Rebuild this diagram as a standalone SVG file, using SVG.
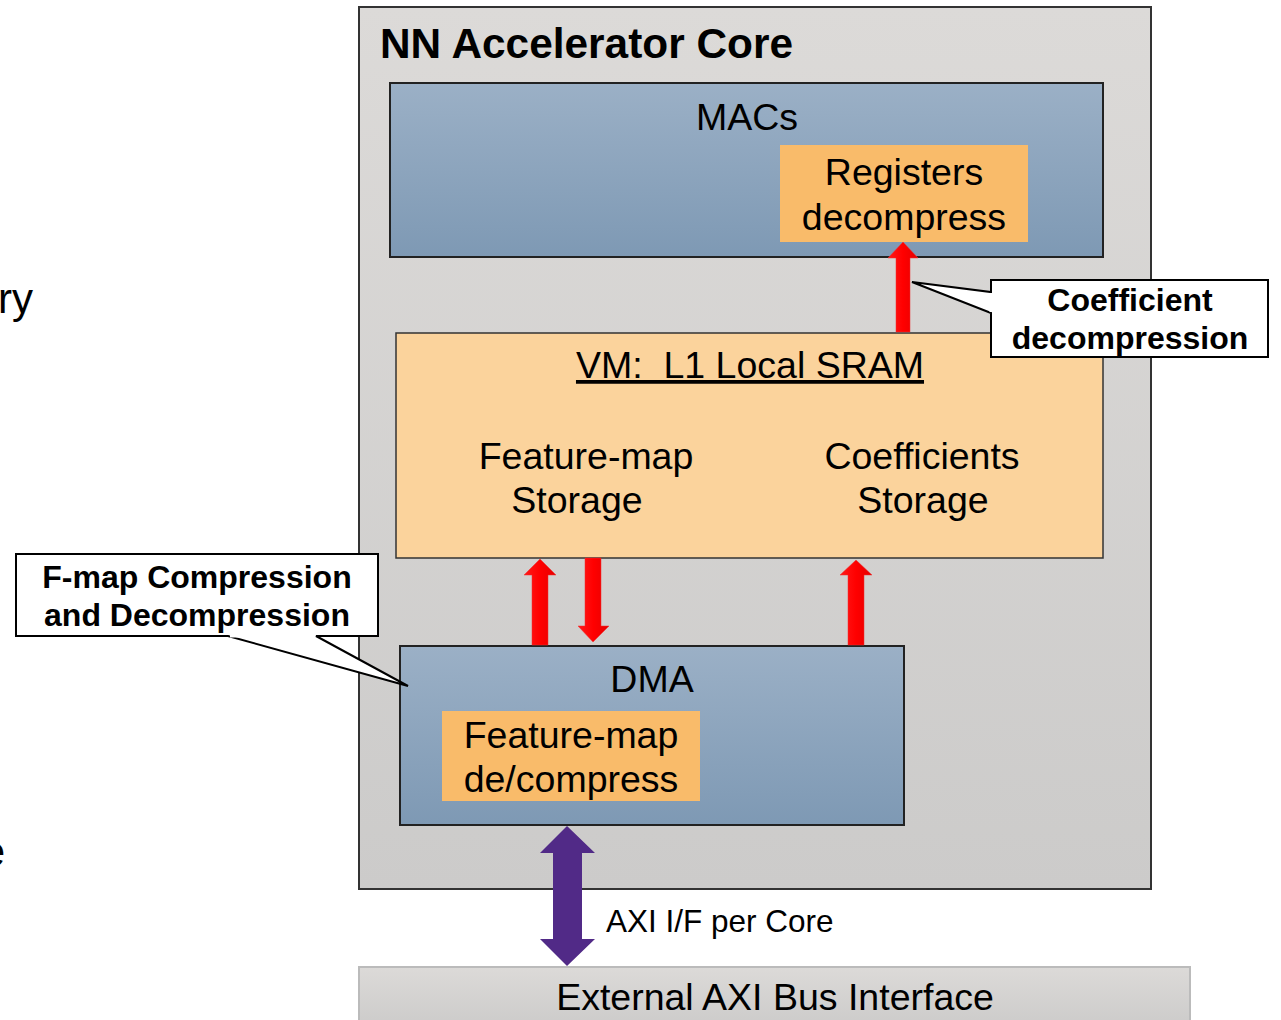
<svg xmlns="http://www.w3.org/2000/svg" width="1281" height="1020" viewBox="0 0 1281 1020">
<style>
text{font-family:"Liberation Sans",Arial,sans-serif;fill:#000}
.t34{font-size:37.5px;text-anchor:middle}
.cb{font-size:32px;font-weight:bold;text-anchor:middle}
.blue{fill:url(#gBlue);stroke:#222;stroke-width:2}
.orange{fill:#f9bb6a}
.red{fill:url(#gRed);stroke:#e33;stroke-width:0.5}
.callout{fill:#fff;stroke:#000;stroke-width:2}
</style>
<defs>
<linearGradient id="gCore" x1="0" y1="0" x2="0" y2="1"><stop offset="0" stop-color="#dcdad8"/><stop offset="1" stop-color="#cccbca"/></linearGradient>
<linearGradient id="gBlue" x1="0" y1="0" x2="0" y2="1"><stop offset="0" stop-color="#9bb0c6"/><stop offset="1" stop-color="#7e99b4"/></linearGradient>
<linearGradient id="gRed" x1="0" y1="0" x2="1" y2="0"><stop offset="0" stop-color="#ff1a1a"/><stop offset="0.5" stop-color="#ff0000"/><stop offset="1" stop-color="#e60000"/></linearGradient>
<linearGradient id="gBus" x1="0" y1="0" x2="0" y2="1"><stop offset="0" stop-color="#dcdad8"/><stop offset="1" stop-color="#cccbca"/></linearGradient>
</defs>
<rect width="1281" height="1020" fill="#fff"/>
<text x="33" y="313" style="font-size:42px;text-anchor:end">ry</text>
<text x="5" y="866" style="font-size:42px;text-anchor:end">e</text>
<g id="core">
<rect x="359" y="7" width="792" height="882" fill="url(#gCore)" stroke="#333" stroke-width="2"/>
<text x="380" y="58" style="font-size:42px;font-weight:bold" textLength="413" lengthAdjust="spacingAndGlyphs">NN Accelerator Core</text>
</g>
<g id="macs">
<rect class="blue" x="390" y="83" width="713" height="174"/>
<text class="t34" x="747" y="130">MACs</text>
</g>
<g id="registers">
<rect class="orange" x="780" y="145" width="248" height="97"/>
<text class="t34" x="904" y="185">Registers</text>
<text class="t34" x="904" y="230">decompress</text>
</g>
<g id="vm">
<rect x="396" y="333" width="707" height="225" fill="#fbd39c" stroke="#333" stroke-width="1.5"/>
<text class="t34" x="750" y="378" text-decoration="underline" xml:space="preserve">VM:  L1 Local SRAM</text>
<text class="t34" x="586" y="469">Feature-map</text>
<text class="t34" x="577" y="513">Storage</text>
<text class="t34" x="922" y="469">Coefficients</text>
<text class="t34" x="923" y="513">Storage</text>
</g>
<g id="dma">
<rect class="blue" x="400" y="646" width="504" height="179"/>
<text class="t34" x="652" y="692">DMA</text>
</g>
<g id="fmap">
<rect class="orange" x="442" y="711" width="258" height="90"/>
<text class="t34" x="571" y="748">Feature-map</text>
<text class="t34" x="571" y="792">de/compress</text>
</g>
<g id="bus">
<rect x="359" y="967" width="831" height="60" fill="url(#gBus)" stroke="#bbb" stroke-width="2"/>
<text class="t34" x="775" y="1010">External AXI Bus Interface</text>
</g>
<g id="connectors">
<polygon class="red" points="896,332 896,258 888,258 903,242 918,258 910,258 910,332"/>
<polygon class="red" points="532,645 532,575 524,575 540,559 556,575 548,575 548,645"/>
<polygon class="red" points="585,558 585,626 578,626 593,642 609,626 601,626 601,558"/>
<polygon class="red" points="848,645 848,575 840,575 856,560 872,575 864,575 864,645"/>
<polygon fill="#512a87" points="567,826 595,853 582,853 582,939 595,939 567,966 540,939 553,939 553,853 540,853"/>
<text x="606" y="932" style="font-size:31.5px">AXI I/F per Core</text>
</g>
<g id="callout-coef">
<polygon class="callout" points="991,280 1268,280 1268,357 991,357 991,313 912,282 991,292"/>
<line x1="991" y1="293" x2="991" y2="312" stroke="#fff" stroke-width="3"/>
<text class="cb" x="1130" y="311">Coefficient</text>
<text class="cb" x="1130" y="349">decompression</text>
</g>
<g id="callout-fmap">
<polygon class="callout" points="16,554 378,554 378,636 316,636 408,686 228,636 16,636"/>
<line x1="230" y1="636" x2="314" y2="636" stroke="#fff" stroke-width="3"/>
<text class="cb" x="197" y="588">F-map Compression</text>
<text class="cb" x="197" y="626">and Decompression</text>
</g>
</svg>
